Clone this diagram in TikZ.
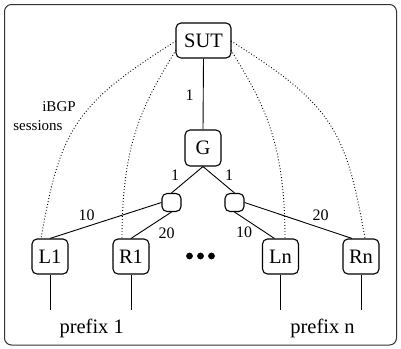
\documentclass[tikz,border=0pt]{standalone}
\usepackage{fontspec}
\setmainfont{Liberation Serif}
\begin{document}
\begin{tikzpicture}[x=1pt,y=1pt,
  router/.style={draw, line width=1.1pt, rounded corners=5pt, inner sep=0pt,
    minimum width=36pt, minimum height=35pt, font=\fontsize{20.5}{24}\selectfont},
  junction/.style={draw, line width=1.1pt, rounded corners=5pt, inner sep=0pt,
    minimum width=19pt, minimum height=18pt},
  link/.style={line width=0.9pt},
  session/.style={line width=0.9pt, dash pattern=on 0.9pt off 2.1pt},
  weight/.style={anchor=base, inner sep=0pt, font=\fontsize{16}{18}\selectfont},
  note/.style={anchor=base, inner sep=0pt, font=\fontsize{15}{17}\selectfont},
  prefixlabel/.style={anchor=base, inner sep=0pt, font=\fontsize{20.5}{24}\selectfont},
  bigdot/.style={circle, fill=black, inner sep=0pt, minimum size=6.8pt}
]
\useasboundingbox (0,0) rectangle (401,-348);
\draw[line width=1pt, black!80, rounded corners=7pt] (4.5,-4.5) rectangle (396.5,-345);

% routers
\node[router, minimum width=55pt] (SUT) at (203.5,-40.5) {SUT};
\node[router, minimum height=36pt] (G) at (203,-148) {G};
\node[junction] (a) at (171.5,-202.5) {};
\node[junction] (b) at (234.5,-202.5) {};
\node[router] (L1) at (50,-256.5) {L1};
\node[router] (R1) at (131,-256.5) {R1};
\node[router] (Ln) at (280.5,-256.5) {Ln};
\node[router] (Rn) at (361,-256.5) {Rn};

% dots
\node[bigdot] (d1) at (189.5,-256) {};
\node[bigdot] (d2) at (200.5,-256) {};
\node[bigdot] (d3) at (211.5,-256) {};

% links
\draw[link] (SUT.south) -- (G.north);
\draw[link] (G.south) -- (a.north);
\draw[link] (G.south) -- (b.north);
\draw[link] (a.west) -- (L1.north);
\draw[link] (a.south) -- (R1.north);
\draw[link] (b.south) -- ([xshift=-6pt]Ln.north);
\draw[link] (b.east) -- ([xshift=-9pt]Rn.north);

% prefix stubs
\coordinate (pL1) at (50,-310);
\coordinate (pR1) at (131,-310);
\coordinate (pLn) at (280.5,-310);
\coordinate (pRn) at (361,-310);
\draw[link] (L1.south) -- (pL1);
\draw[link] (R1.south) -- (pR1);
\draw[link] (Ln.south) -- (pLn);
\draw[link] (Rn.south) -- (pRn);

% iBGP sessions
\coordinate (sL) at (176,-41);
\coordinate (sR) at (231,-41);
\coordinate (sLb) at (176,-50);
\coordinate (sRb) at (231,-50);
\draw[session] (sL) .. controls +(212:120) and +(80:110) .. ([xshift=-9pt]L1.north);
\draw[session] (sLb) .. controls +(239:60) and +(90:100) .. ([xshift=-9pt]R1.north);
\draw[session] (sRb) .. controls +(-59:60) and +(90:100) .. ([xshift=4.5pt]Ln.north);
\draw[session] (sR) .. controls +(-32:120) and +(100:110) .. ([xshift=4pt]Rn.north);

% labels
\node[weight] (w0) at (189.5,-100) {1};
\node[weight] (w1) at (175,-180) {1};
\node[weight] (w2) at (229,-180) {1};
\node[weight] (w3) at (86.5,-220) {10};
\node[weight] (w4) at (166.5,-238) {20};
\node[weight] (w5) at (244,-237.5) {10};
\node[weight] (w6) at (320.5,-220) {20};
\node[note] (n1) at (59,-111.7) {iBGP};
\node[note] (n2) at (38,-130.5) {sessions};
\node[prefixlabel] (t1) at (91.7,-333) {prefix 1};
\node[prefixlabel] (t2) at (322.5,-333) {prefix n};
\end{tikzpicture}
\end{document}
